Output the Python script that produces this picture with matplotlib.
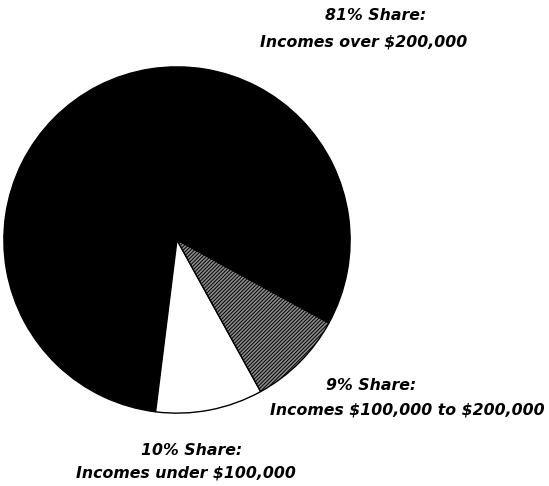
import matplotlib.pyplot as plt

# === DATOS ===
shares = [81, 10, 9]
labels_top = ["81% Share:", "10% Share:", "9% Share:"]
labels_bottom = ["Incomes over \\$200,000", "Incomes under \\$100,000",
                 "Incomes \\$100,000 to \\$200,000"]
colors = ["black", "white", "#8a8a8a"]
hatches = [None, None, "/////////"]

W, H = 549, 486
plt.rcParams['hatch.linewidth'] = 0.7

fig = plt.figure(figsize=(W / 100, H / 100), dpi=100)
# eje colocado para que el círculo quede donde está en la figura original
cx, cy, r = 177, 240, 174
ax = fig.add_axes([(cx - r) / W, (H - cy - r) / H, 2 * r / W, 2 * r / H])
ax.axis('off')

wedges, _ = ax.pie(shares, colors=colors, startangle=-28.7, counterclock=True,
                   radius=1, center=(0, 0), frame=False,
                   wedgeprops=dict(edgecolor='black', linewidth=1.0))
for w, h in zip(wedges, hatches):
    if h:
        w.set_hatch(h)
ax.set_xlim(-1.005, 1.005)
ax.set_ylim(-1.005, 1.005)

# === ETIQUETAS ===
txt = dict(fontsize=11.3, fontweight='bold', fontstyle='italic',
           ha='center', va='center', family='DejaVu Sans')
pos_top = [(376, 15), (192, 450), (371, 385)]
pos_bottom = [(364, 42), (186, 473), (407, 410)]
for t, b, (x1, y1), (x2, y2) in zip(labels_top, labels_bottom, pos_top, pos_bottom):
    fig.text(x1 / W, 1 - y1 / H, t, **txt)
    fig.text(x2 / W, 1 - y2 / H, b, **txt)

fig.savefig("out.png", dpi=100)
